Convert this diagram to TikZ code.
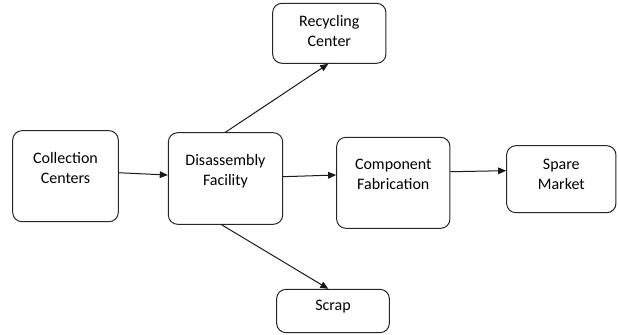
\documentclass[tikz,border=0pt]{standalone}
\usepackage{fontspec}
\setmainfont{Carlito}
\usetikzlibrary{arrows.meta}
\begin{document}
\begin{tikzpicture}[x=0.75pt,y=-0.75pt,
  box/.style={draw=black!85, line width=0.75pt, rounded corners=7pt, inner sep=0pt},
  txt/.style={align=center, font=\fontsize{12}{15}\selectfont, inner sep=0pt},
  arr/.style={draw=black!90, line width=0.75pt, -{Triangle[length=6pt,width=5pt]}}]
\useasboundingbox (0,0) rectangle (618,335);
% boxes
\node[box, minimum width=79.2pt, minimum height=68.3pt] (cc) at (65.5,176.2) {};
\node[box, minimum width=85.8pt, minimum height=68.7pt] (df) at (225.5,178.5) {};
\node[box, minimum width=85pt, minimum height=68.3pt] (cf) at (393.3,182.8) {};
\node[box, minimum width=82pt, minimum height=50.3pt] (sm) at (561.3,179.2) {};
\node[box, minimum width=85pt, minimum height=45pt] (rc) at (329.3,33.3) {};
\node[box, minimum width=84.5pt, minimum height=32.5pt] (sc) at (333,311) {};
% texts
\node[txt] (cct) at (65.5,168.5) {Collection\\Centers};
\node[txt] (dft) at (225.5,171) {Disassembly\\Facility};
\node[txt] (cft) at (393.3,174.5) {Component\\Fabrication};
\node[txt] (smt) at (561.3,174.5) {Spare\\Market};
\node[txt] (rct) at (329.3,31.5) {Recycling\\Center};
\node[txt] (sct) at (333,307) {Scrap};
% arrows
\draw[arr] ([yshift=2.6pt]cc.east) -- ([yshift=2.6pt]df.west);
\draw[arr] ([yshift=1.35pt]df.east) -- ([yshift=5.85pt]cf.west);
\draw[arr] ([yshift=8.3pt]cf.east) -- ([yshift=6.4pt]sm.west);
\draw[arr] (df.north) -- ([xshift=-0.75pt]rc.south);
\draw[arr] ([xshift=-2.85pt]df.south) -- ([xshift=-3.5pt]sc.north);
\end{tikzpicture}
\end{document}
